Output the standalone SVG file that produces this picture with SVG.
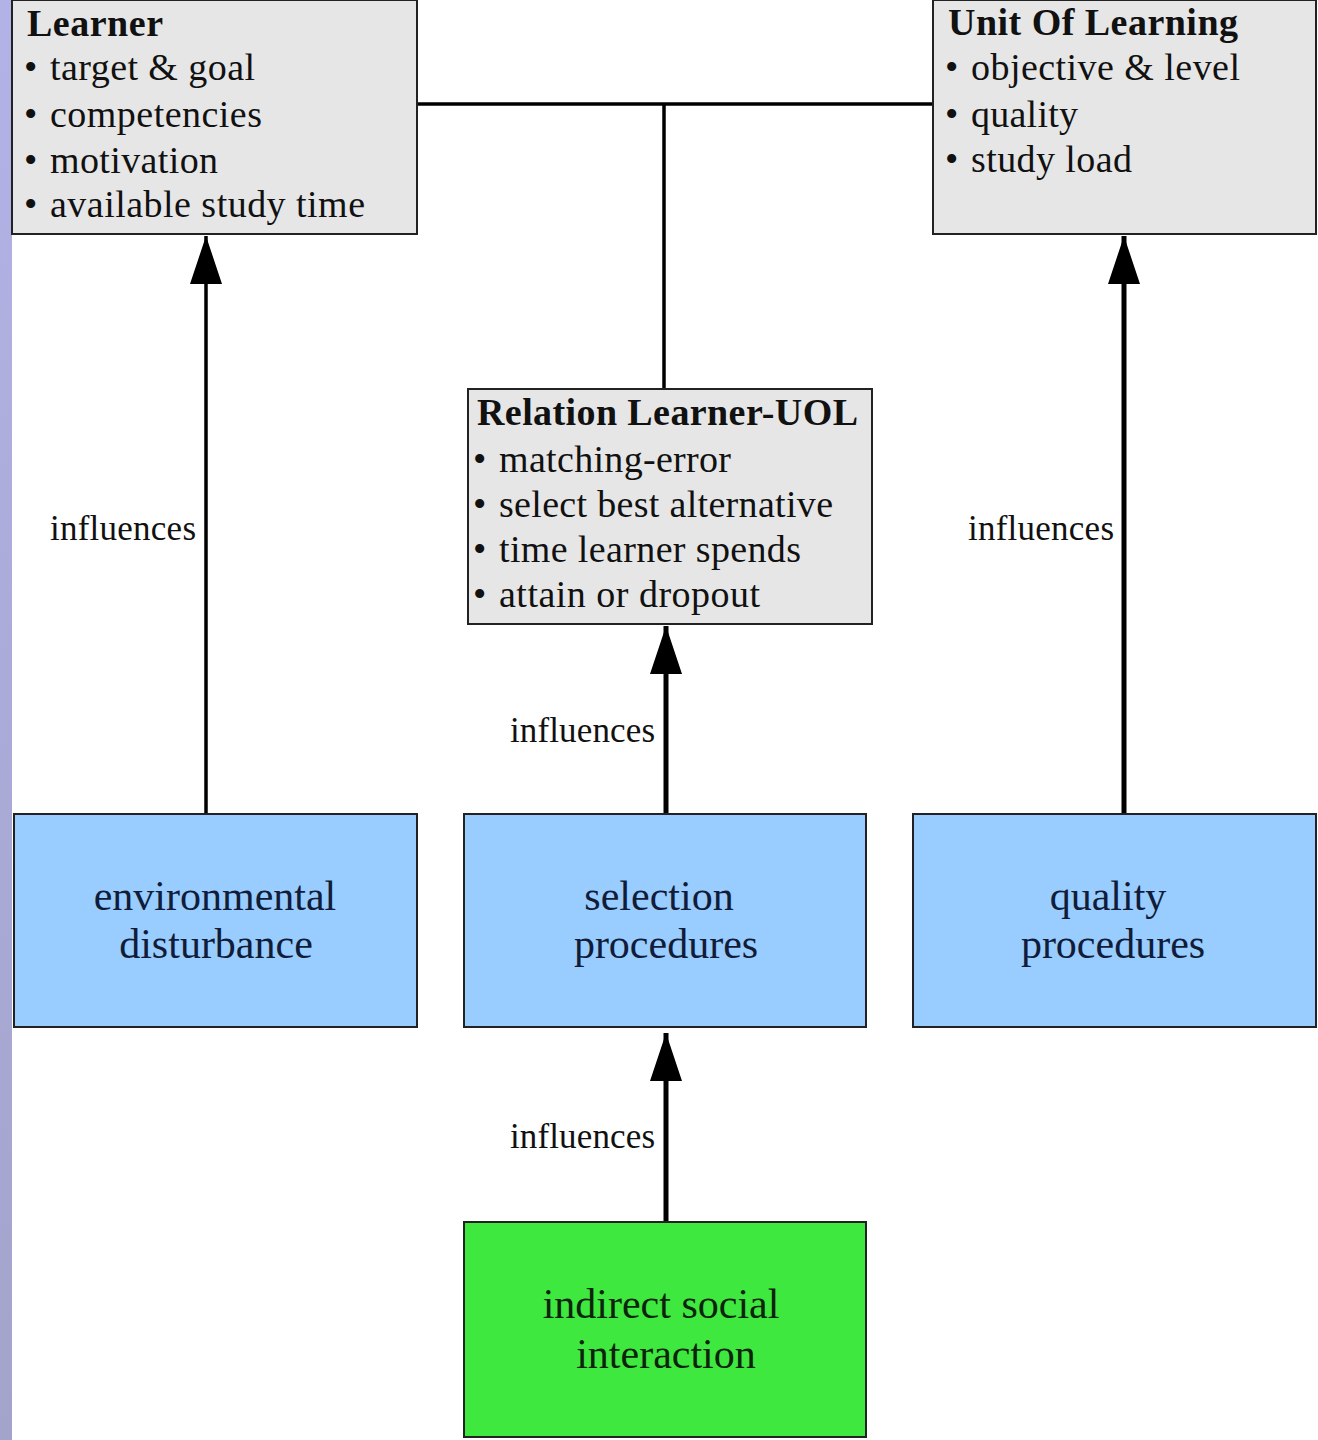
<svg xmlns="http://www.w3.org/2000/svg" width="1318" height="1440" viewBox="0 0 1318 1440">
<defs>
<linearGradient id="strip" x1="0" y1="0" x2="0" y2="1">
<stop offset="0" stop-color="#b2b2e6"/>
<stop offset="1" stop-color="#a3a3cb"/>
</linearGradient>
<marker id="ah" markerUnits="userSpaceOnUse" markerWidth="50" markerHeight="32" refX="48" refY="16" orient="auto">
<path d="M0,0 L48,16 L0,32 z" fill="#000"/>
</marker>
<style>
.gray{fill:#e6e6e6;stroke:#222;stroke-width:2}
.blue{fill:#99ccff;stroke:#222;stroke-width:2}
.green{fill:#3fe83f;stroke:#222;stroke-width:2}
.t{font-family:"Liberation Serif","Times New Roman",serif;fill:#111}
.h{font-size:38px;font-weight:bold}
.b{font-size:38px}
.c{font-size:42px;text-anchor:middle}
.lbl{font-family:"Liberation Serif","Times New Roman",serif;font-size:35px;fill:#111}
.ln{stroke:#000;fill:none}
</style>
</defs>
<rect x="0" y="0" width="1318" height="1440" fill="#ffffff"/>
<rect x="0" y="0" width="12" height="1440" fill="url(#strip)"/>

<g id="connectors">
<line class="ln" x1="417" y1="104" x2="933" y2="104" stroke-width="3.5"/>
<line class="ln" x1="664" y1="104" x2="664" y2="389" stroke-width="3.5"/>
<line class="ln" x1="206" y1="814" x2="206" y2="236" stroke-width="3.5" marker-end="url(#ah)"/>
<line class="ln" x1="1124" y1="814" x2="1124" y2="236" stroke-width="5" marker-end="url(#ah)"/>
<line class="ln" x1="666" y1="814" x2="666" y2="626" stroke-width="5" marker-end="url(#ah)"/>
<line class="ln" x1="666" y1="1222" x2="666" y2="1033" stroke-width="5" marker-end="url(#ah)"/>
<text class="lbl" x="50" y="540" textLength="146" lengthAdjust="spacing">influences</text>
<text class="lbl" x="968" y="540" textLength="146" lengthAdjust="spacing">influences</text>
<text class="lbl" x="510" y="742" textLength="145" lengthAdjust="spacing">influences</text>
<text class="lbl" x="510" y="1148" textLength="145" lengthAdjust="spacing">influences</text>
</g>

<g id="learner">
<rect class="gray" x="12" y="0" width="405" height="234"/>
<text class="t h" x="27" y="36" textLength="136" lengthAdjust="spacing">Learner</text>
<text class="t b" x="24" y="80">•</text><text class="t b" x="50" y="80" textLength="205" lengthAdjust="spacing">target &amp; goal</text>
<text class="t b" x="24" y="127">•</text><text class="t b" x="50" y="127" textLength="212" lengthAdjust="spacing">competencies</text>
<text class="t b" x="24" y="173">•</text><text class="t b" x="50" y="173" textLength="168" lengthAdjust="spacing">motivation</text>
<text class="t b" x="24" y="217">•</text><text class="t b" x="50" y="217" textLength="315" lengthAdjust="spacing">available study time</text>
</g>

<g id="unit-of-learning">
<rect class="gray" x="933" y="0" width="383" height="234"/>
<text class="t h" x="948" y="35" textLength="290" lengthAdjust="spacing">Unit Of Learning</text>
<text class="t b" x="945" y="80">•</text><text class="t b" x="971" y="80" textLength="269" lengthAdjust="spacing">objective &amp; level</text>
<text class="t b" x="945" y="127">•</text><text class="t b" x="971" y="127" textLength="107" lengthAdjust="spacing">quality</text>
<text class="t b" x="945" y="172">•</text><text class="t b" x="971" y="172" textLength="161" lengthAdjust="spacing">study load</text>
</g>

<g id="relation">
<rect class="gray" x="468" y="389" width="404" height="235"/>
<text class="t h" x="477" y="425" textLength="381" lengthAdjust="spacing">Relation Learner-UOL</text>
<text class="t b" x="473" y="472">•</text><text class="t b" x="499" y="472" textLength="232" lengthAdjust="spacing">matching-error</text>
<text class="t b" x="473" y="517">•</text><text class="t b" x="499" y="517" textLength="334" lengthAdjust="spacing">select best alternative</text>
<text class="t b" x="473" y="562">•</text><text class="t b" x="499" y="562" textLength="302" lengthAdjust="spacing">time learner spends</text>
<text class="t b" x="473" y="607">•</text><text class="t b" x="499" y="607" textLength="261" lengthAdjust="spacing">attain or dropout</text>
</g>

<g id="environmental-disturbance">
<rect class="blue" x="14" y="814" width="403" height="213"/>
<text class="t c" x="215" y="910" style="fill:#101c38">environmental</text>
<text class="t c" x="216" y="958" style="fill:#101c38">disturbance</text>
</g>

<g id="selection-procedures">
<rect class="blue" x="464" y="814" width="402" height="213"/>
<text class="t c" x="659" y="910" style="fill:#101c38">selection</text>
<text class="t c" x="666" y="958" style="fill:#101c38">procedures</text>
</g>

<g id="quality-procedures">
<rect class="blue" x="913" y="814" width="403" height="213"/>
<text class="t c" x="1108" y="910" style="fill:#101c38">quality</text>
<text class="t c" x="1113" y="958" style="fill:#101c38">procedures</text>
</g>

<g id="indirect-social-interaction">
<rect class="green" x="464" y="1222" width="402" height="215"/>
<text class="t c" x="661" y="1318" style="fill:#0c240c">indirect social</text>
<text class="t c" x="666" y="1368" style="fill:#0c240c">interaction</text>
</g>
</svg>
